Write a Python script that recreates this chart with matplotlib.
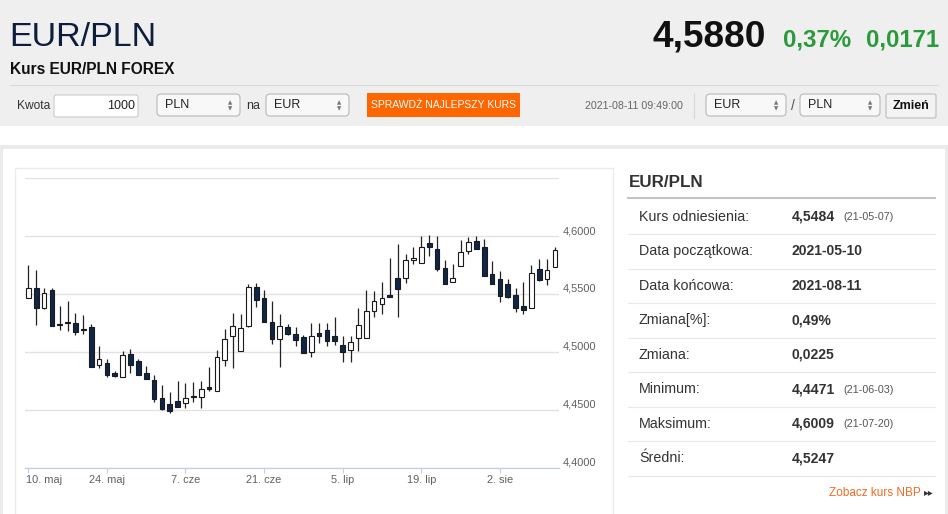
import numpy as np
import pandas as pd
import matplotlib
matplotlib.use('Agg')
import matplotlib.pyplot as plt
from matplotlib.patches import Rectangle, FancyBboxPatch
from matplotlib.transforms import ScaledTranslation

plt.rcParams['font.family'] = ['Liberation Sans', 'DejaVu Sans']

# ---- data (EUR/PLN daily candles) ----
start_date = '2021-05-10'
end_date = '2021-08-11'

opens = [4.5468, 4.5555, 4.5381, 4.5531, 4.5238, 4.5260, 4.5251, 4.5192, 4.5216, 4.4886,
         4.4904, 4.4813, 4.4785, 4.4982, 4.4918, 4.4813, 4.4759, 4.4600, 4.4548, 4.4576,
         4.4557, 4.4616, 4.4611, 4.4692, 4.4663, 4.4930, 4.5141, 4.5010, 4.5221, 4.5563,
         4.5468, 4.5256, 4.5115, 4.5216, 4.5158, 4.5129, 4.4996, 4.5164, 4.5190, 4.5138,
         4.5063, 4.5019, 4.5121, 4.5121, 4.5349, 4.5410, 4.5490, 4.5642, 4.5635, 4.5798,
         4.5772, 4.5937, 4.5887, 4.5722, 4.5607, 4.5742, 4.5872, 4.5959, 4.5902, 4.5676,
         4.5627, 4.5583, 4.5491, 4.5398, 4.5381, 4.5714, 4.5627, 4.5734]
highs = [4.5748, 4.5707, 4.5555, 4.5555, 4.5395, 4.5436, 4.5338, 4.5320, 4.5242, 4.5048,
         4.4941, 4.4831, 4.5004, 4.5028, 4.4941, 4.4880, 4.4802, 4.4709, 4.4652, 4.4744,
         4.4730, 4.4735, 4.4750, 4.4869, 4.5013, 4.5201, 4.5338, 4.5329, 4.5589, 4.5595,
         4.5531, 4.5436, 4.5329, 4.5242, 4.5216, 4.5149, 4.5251, 4.5251, 4.5248, 4.5300,
         4.5135, 4.5141, 4.5375, 4.5537, 4.5525, 4.5607, 4.5815, 4.5931, 4.5844, 4.5902,
         4.6003, 4.6009, 4.6003, 4.5792, 4.5763, 4.5965, 4.5994, 4.6005, 4.5974, 4.5786,
         4.5699, 4.5627, 4.5549, 4.5607, 4.5751, 4.5800, 4.5806, 4.5902]
lows = [4.5468, 4.5230, 4.5366, 4.5225, 4.5187, 4.5184, 4.5143, 4.5150, 4.4866, 4.4860,
        4.4782, 4.4782, 4.4785, 4.4817, 4.4796, 4.4767, 4.4570, 4.4496, 4.4471, 4.4527,
        4.4513, 4.4570, 4.4513, 4.4657, 4.4663, 4.4874, 4.4860, 4.5010, 4.5213, 4.5390,
        4.5260, 4.5069, 4.4866, 4.5149, 4.5048, 4.4990, 4.4952, 4.5077, 4.5048, 4.5063,
        4.4912, 4.4912, 4.5010, 4.5121, 4.5303, 4.5323, 4.5477, 4.5300, 4.5592, 4.5763,
        4.5772, 4.5829, 4.5699, 4.5583, 4.5607, 4.5742, 4.5844, 4.5887, 4.5655, 4.5589,
        4.5433, 4.5468, 4.5346, 4.5329, 4.5381, 4.5612, 4.5577, 4.5734]
closes = [4.5555, 4.5381, 4.5511, 4.5225, 4.5232, 4.5245, 4.5169, 4.5187, 4.4866, 4.4938,
          4.4802, 4.4793, 4.4976, 4.4889, 4.4802, 4.4767, 4.4591, 4.4507, 4.4492, 4.4527,
          4.4600, 4.4610, 4.4681, 4.4675, 4.4952, 4.5112, 4.5227, 4.5207, 4.5563, 4.5444,
          4.5260, 4.5115, 4.5227, 4.5155, 4.5103, 4.4990, 4.5138, 4.5138, 4.5097, 4.5097,
          4.4996, 4.5083, 4.5236, 4.5352, 4.5438, 4.5468, 4.5478, 4.5546, 4.5794, 4.5815,
          4.5907, 4.5907, 4.5720, 4.5583, 4.5642, 4.5859, 4.5951, 4.5887, 4.5655, 4.5589,
          4.5482, 4.5473, 4.5375, 4.5358, 4.5679, 4.5618, 4.5705, 4.5880]

xtick_dates = ['2021-05-10', '2021-05-24', '2021-06-07', '2021-06-21',
               '2021-07-05', '2021-07-19', '2021-08-02']
xtick_labels = ['10. maj', '24. maj', '7. cze', '21. cze', '5. lip', '19. lip', '2. sie']
ytick_values = [4.40, 4.45, 4.50, 4.55, 4.60, 4.65]
ytick_labels = ['4,4000', '4,4500', '4,5000', '4,5500', '4,6000', '']

stat_labels = ['Kurs odniesienia:', 'Data początkowa:', 'Data końcowa:', 'Zmiana[%]:',
               'Zmiana:', 'Minimum:', 'Maksimum:', 'Średni:']
stat_values = ['4,5484', '2021-05-10', '2021-08-11', '0,49%',
               '0,0225', '4,4471', '4,6009', '4,5247']
stat_dates = ['(21-05-07)', '', '', '', '', '(21-06-03)', '(21-07-20)', '']

# header texts
pair_name = 'EUR/PLN'
subtitle = 'Kurs EUR/PLN FOREX'
last_rate = '4,5880'
change_pct = '0,37%'
change_abs = '0,0171'
quote_time = '2021-08-11 09:49:00'

W, H = 948, 514
PT = 0.72  # points per pixel at dpi 100

fig = plt.figure(figsize=(W / 100, H / 100), dpi=100)
fig.patch.set_facecolor('white')

# background axes in pixel coordinates (y down)
bg = fig.add_axes([0, 0, 1, 1])
bg.set_xlim(0, W)
bg.set_ylim(H, 0)
bg.axis('off')

# header band
bg.add_patch(Rectangle((0, 0), W, 126, fc='#efefef', ec='none'))
bg.plot([10, 938], [85, 85], color='#d9d9d9', lw=0.8)

bg.text(9, 46, pair_name, fontsize=34 * PT, color='#0c1e3c', va='baseline')
bg.text(766, 46, last_rate, fontsize=37 * PT, color='#111111', weight='bold', ha='right', va='baseline')
bg.text(783, 46, change_pct, fontsize=24 * PT, color='#2a9a3c', weight='bold', va='baseline')
bg.text(866, 46, change_abs, fontsize=24 * PT, color='#2a9a3c', weight='bold', va='baseline')
bg.text(10, 74.3, subtitle, fontsize=15.5 * PT, color='#111111', weight='bold', va='baseline')


def select_box(x0, x1, label):
    bg.add_patch(FancyBboxPatch((x0, 94), x1 - x0, 22, boxstyle='round,pad=0,rounding_size=4',
                                fc='#f8f8f8', ec='#b8b8b8', lw=0.8))
    bg.text(x0 + 8, 105.5, label, fontsize=12.5 * PT, color='#222222', va='center')
    bg.text(x1 - 10, 102.5, '▲', fontsize=4, color='#777777', ha='center', va='center',
            family=['DejaVu Sans'])
    bg.text(x1 - 10, 108.5, '▼', fontsize=4, color='#777777', ha='center', va='center',
            family=['DejaVu Sans'])


bg.text(17, 106, 'Kwota', fontsize=12 * PT, color='#333333', va='center')
bg.add_patch(FancyBboxPatch((54, 95), 84, 22, boxstyle='round,pad=0,rounding_size=2',
                            fc='white', ec='#cccccc', lw=0.8))
bg.text(135, 106, '1000', fontsize=12.5 * PT, color='#222222', ha='right', va='center')
select_box(157, 240, 'PLN')
bg.text(246, 106, 'na', fontsize=12.5 * PT, color='#333333', va='center')
select_box(266, 349, 'EUR')
bg.add_patch(Rectangle((367, 93), 153, 24, fc='#ff6600', ec='none'))
bg.text(443.5, 105.5, 'SPRAWDŹ NAJLEPSZY KURS', fontsize=10.4 * PT, color='white',
        ha='center', va='center')
bg.text(683, 106, quote_time, fontsize=10.6 * PT, color='#666666', ha='right', va='center')
bg.plot([694, 694], [93, 118], color='#d8d8d8', lw=0.8)
select_box(706, 786, 'EUR')
bg.text(793, 106, '/', fontsize=14 * PT, color='#555555', ha='center', va='center')
select_box(800, 880, 'PLN')
bg.add_patch(FancyBboxPatch((886, 94), 50, 24, boxstyle='round,pad=0,rounding_size=2',
                            fc='#f3f3f3', ec='#bdbdbd', lw=0.8))
bg.text(911, 106, 'Zmień', fontsize=12.5 * PT, color='#111111', weight='bold', ha='center', va='center')

# panel frame
bg.add_patch(Rectangle((0, 145), W, 4, fc='#ebebeb', ec='none'))
bg.add_patch(Rectangle((0, 145), 3, H - 145, fc='#ebebeb', ec='none'))
bg.add_patch(Rectangle((945, 145), 3, H - 145, fc='#ebebeb', ec='none'))
bg.add_patch(Rectangle((15, 168), 598, 360, fc='white', ec='#ebebeb', lw=1))

# statistics table on the right
bg.text(629, 187.3, pair_name, fontsize=17 * PT, color='#333333', weight='bold', va='baseline')
bg.plot([628, 935], [197.5, 197.5], color='#c4c4c4', lw=1.5)
row_h = 34.5
for i, (lab, val, dt) in enumerate(zip(stat_labels, stat_values, stat_dates)):
    yc = 216.7 + i * row_h
    bg.text(639, yc, lab, fontsize=14.2 * PT, color='#333333', va='center')
    bg.text(792, yc, val, fontsize=14 * PT, color='#333333', weight='bold', va='center')
    if dt:
        bg.text(843, yc + 0.5, dt, fontsize=10.7 * PT, color='#555555', va='center')
    bg.plot([628, 935], [yc + 17.5, yc + 17.5], color='#e8e8e8', lw=0.8)
bg.text(921, 492.5, 'Zobacz kurs NBP', fontsize=11.7 * PT, color='#f26a21', ha='right', va='center')
bg.text(924, 492, '▸▸', fontsize=7, color='#333333', va='center', family=['DejaVu Sans'])

# ---- candlestick chart ----
days = pd.bdate_range(start_date, end_date)
x = np.arange(len(days))
o = np.array(opens)
h = np.array(highs)
l = np.array(lows)
c = np.array(closes)
up = c >= o

ax = fig.add_axes([25 / W, 1 - 467.5 / H, 534 / W, (467.5 - 178.3) / H])
ax.set_facecolor('none')
ax.set_xlim(-0.42, len(days) - 0.48)
ax.set_ylim(ytick_values[0], ytick_values[-1])

ax.vlines(x, l, h, color='#222222', lw=0.9, zorder=2)
body_lo = np.minimum(o, c)
body_h = np.maximum(np.abs(c - o), 0.0006)
ax.bar(x, body_h, bottom=body_lo, width=0.6,
       color=np.where(up, 'white', '#0e2748'), edgecolor='#1a1a1a', lw=0.8, zorder=3)

for s in ['top', 'left', 'right']:
    ax.spines[s].set_visible(False)
ax.spines['bottom'].set_color('#c0d0e0')
ax.spines['bottom'].set_linewidth(0.9)

ax.set_yticks(ytick_values)
ax.set_yticklabels(ytick_labels)
ax.yaxis.tick_right()
ax.tick_params(axis='y', length=0, pad=3, labelsize=11 * PT, labelcolor='#606060')
for lab in ax.get_yticklabels():
    lab.set_transform(lab.get_transform() + ScaledTranslation(0, 0.06, fig.dpi_scale_trans))
ax.grid(axis='y', color='#e2e2e2', lw=1.0, zorder=0)

tick_pos = [days.get_loc(pd.Timestamp(d)) for d in xtick_dates]
ax.set_xticks(tick_pos)
ax.set_xticklabels(xtick_labels)
ax.tick_params(axis='x', length=3.6, width=0.8, color='#c0d0e0', pad=2,
               labelsize=11 * PT, labelcolor='#606060')
first = ax.get_xticklabels()[0]
first.set_ha('left')
first.set_transform(first.get_transform() + ScaledTranslation(-0.02, 0, fig.dpi_scale_trans))

fig.savefig('out.png', dpi=100)
